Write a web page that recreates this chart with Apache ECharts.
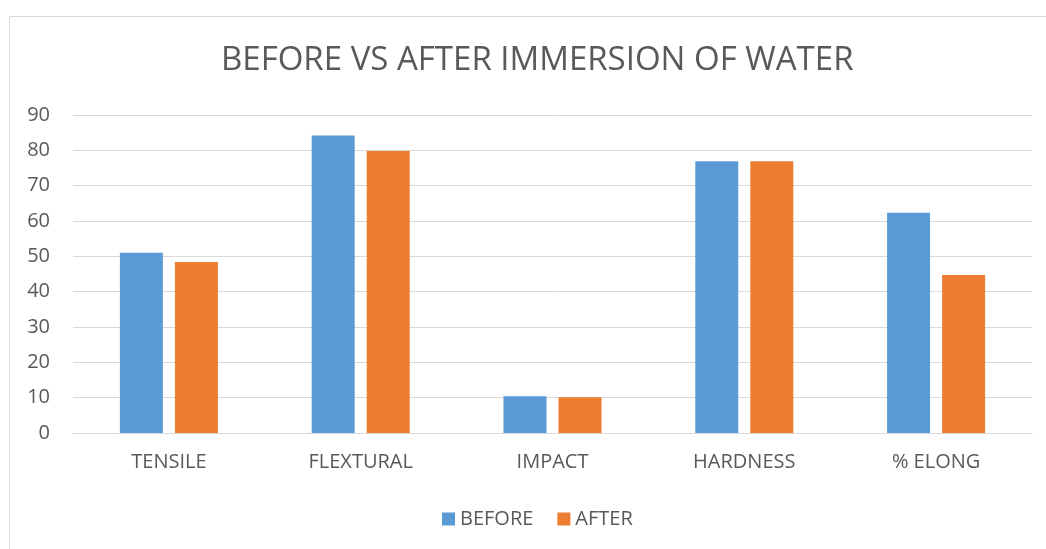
<!DOCTYPE html>
<html>
<head>
<meta charset="utf-8">
<script src="https://cdn.jsdelivr.net/npm/echarts@6/dist/echarts.min.js"></script>
<style>
html,body{margin:0;padding:0;background:#fff;}
#chart{width:1046px;height:549px;}
</style>
</head>
<body>
<div id="chart"></div>
<script>
const categories = ['TENSILE', 'FLEXTURAL', 'IMPACT', 'HARDNESS', '% ELONG'];
const beforeValues = [51.0, 84.2, 10.4, 76.9, 62.3];
const afterValues = [48.4, 79.8, 10.1, 76.9, 44.7];
const seriesNames = ['BEFORE', 'AFTER'];
const titleText = 'BEFORE VS AFTER IMMERSION OF WATER';

const FONT = 'Open Sans';
const chart = echarts.init(document.getElementById('chart'));
chart.setOption({
  backgroundColor: '#fff',
  animation: false,
  title: {
    text: titleText,
    left: 216,
    top: 39,
    textStyle: { fontFamily: FONT, fontSize: 33, fontWeight: 'normal', color: '#595959' }
  },
  legend: {
    data: seriesNames,
    bottom: 15,
    left: 437,
    icon: 'rect',
    itemWidth: 13,
    itemHeight: 13,
    itemGap: 24,
    itemStyle: { borderWidth: 0 },
    textStyle: { fontFamily: FONT, fontSize: 20, color: '#595959' }
  },
  grid: { left: 73, right: 14, top: 115, bottom: 116, containLabel: false },
  xAxis: {
    type: 'category',
    data: categories,
    axisLine: { lineStyle: { color: '#d9d9d9' } },
    axisTick: { show: false },
    axisLabel: { fontFamily: FONT, fontSize: 20, color: '#595959', margin: 19 }
  },
  yAxis: {
    type: 'value',
    min: 0, max: 90, interval: 10,
    axisLine: { show: false },
    axisTick: { show: false },
    splitLine: { lineStyle: { color: '#d9d9d9' } },
    axisLabel: { fontFamily: FONT, fontSize: 20, color: '#595959', margin: 23 }
  },
  graphic: [
    { type: 'line', shape: { x1: 9.5, y1: 16.5, x2: 1046, y2: 16.5 }, style: { stroke: '#d9d9d9', lineWidth: 1 } },
    { type: 'line', shape: { x1: 9.5, y1: 16.5, x2: 9.5, y2: 549 }, style: { stroke: '#d9d9d9', lineWidth: 1 } }
  ],
  series: [
    { name: seriesNames[0], type: 'bar', data: beforeValues, barWidth: 43, barGap: '28%',
      itemStyle: { color: '#5b9bd5' } },
    { name: seriesNames[1], type: 'bar', data: afterValues, barWidth: 43,
      itemStyle: { color: '#ed7d31' } }
  ]
});
</script>
</body>
</html>
